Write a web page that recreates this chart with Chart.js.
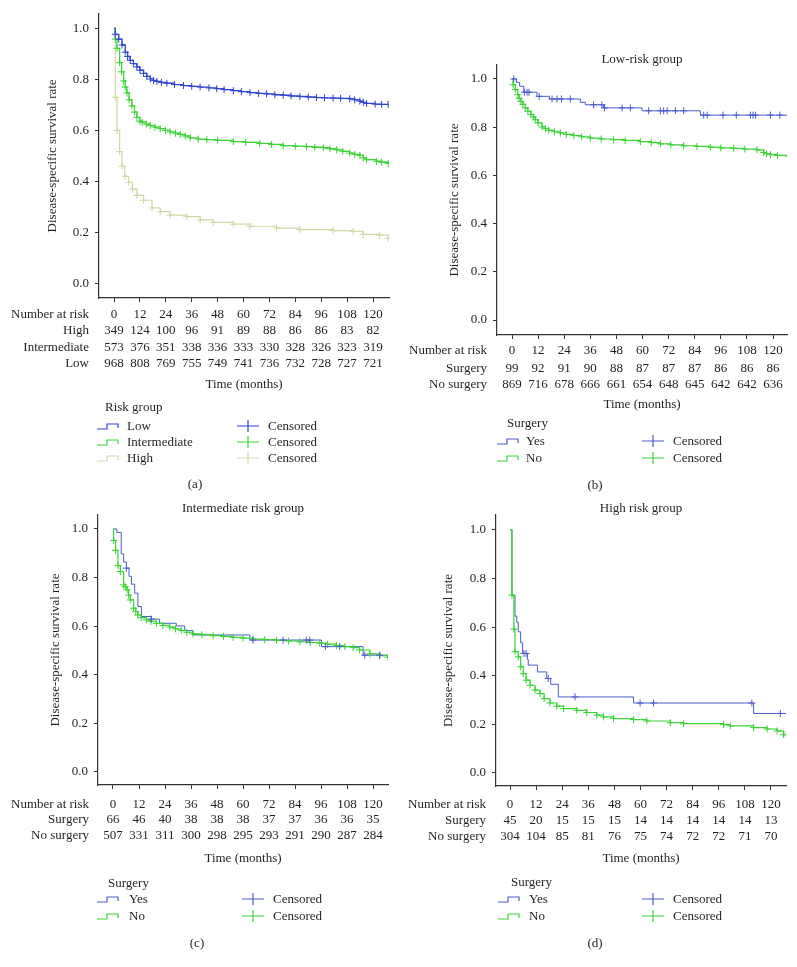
<!DOCTYPE html>
<html lang="en">
<head>
<meta charset="UTF-8">
<title>Disease-specific survival by risk group and surgery</title>
<script src="https://cdn.jsdelivr.net/npm/chart.js"></script>
<style>
  body { margin: 0; background: #fff; }
  .wrap { position: relative; width: 797px; height: 967px; }
  canvas { position: absolute; }
</style>
</head>
<body>
<div class="wrap">
  <canvas id="panelA" width="398" height="495" style="left:0;top:0"></canvas>
  <canvas id="panelB" width="397" height="495" style="left:400px;top:0"></canvas>
  <canvas id="panelC" width="398" height="472" style="left:0;top:495px"></canvas>
  <canvas id="panelD" width="397" height="472" style="left:400px;top:495px"></canvas>
</div>
<script>
// ---- data ----
const months = [0, 12, 24, 36, 48, 60, 72, 84, 96, 108, 120];
const survTicks = [0, 0.2, 0.4, 0.6, 0.8, 1.0];

// (a) all patients by risk group
const lowTime = [0, 0.6, 2.2, 3.7, 5.2, 6.3, 7.5, 9, 10.6, 12, 13.7, 15.2, 16.8, 18.3, 19.9, 22, 24.5, 28, 32.2, 36, 39.9, 44, 47.6, 51, 55.3, 59, 63, 67, 70.7, 74.5, 78.4, 82, 86.1, 90, 93.8, 97.5, 101.5, 105, 109.2, 111.5, 113.9, 115.5, 117, 121, 124, 127];
const lowSurv = [1, 0.977, 0.958, 0.935, 0.907, 0.89, 0.875, 0.862, 0.849, 0.836, 0.824, 0.812, 0.802, 0.796, 0.792, 0.788, 0.785, 0.78, 0.776, 0.773, 0.77, 0.767, 0.764, 0.76, 0.756, 0.752, 0.748, 0.745, 0.743, 0.74, 0.738, 0.735, 0.733, 0.731, 0.729, 0.728, 0.727, 0.726, 0.724, 0.72, 0.715, 0.71, 0.706, 0.703, 0.702, 0.702];
const interTime = [0, 0.6, 1.4, 2.6, 3.5, 4.5, 5.2, 6, 7, 8.3, 9.5, 10.6, 12, 13, 15, 16.8, 19, 21.4, 23.8, 26, 28.5, 30.7, 33, 35.3, 39, 43, 48, 55.3, 61, 67.5, 73, 78.4, 84, 89.2, 93, 97, 100, 103.2, 106, 109.2, 111.5, 113.9, 115.5, 117, 121.6, 124, 127];
const interSurv = [1, 0.958, 0.922, 0.866, 0.83, 0.794, 0.77, 0.747, 0.72, 0.696, 0.672, 0.651, 0.636, 0.632, 0.625, 0.619, 0.613, 0.607, 0.6, 0.594, 0.589, 0.584, 0.578, 0.571, 0.566, 0.564, 0.561, 0.556, 0.553, 0.549, 0.545, 0.54, 0.538, 0.536, 0.534, 0.532, 0.528, 0.524, 0.518, 0.511, 0.506, 0.502, 0.492, 0.485, 0.479, 0.475, 0.47];
const highTime = [0, 0.6, 1.4, 2.6, 3.7, 5, 6.8, 8.5, 10.6, 13.7, 17.6, 21.4, 26, 33.7, 39.9, 46, 55.3, 63, 75.3, 86.1, 101.5, 110.8, 115.4, 123.1, 127];
const highSurv = [1, 0.73, 0.6, 0.517, 0.46, 0.42, 0.396, 0.37, 0.345, 0.326, 0.296, 0.281, 0.268, 0.262, 0.249, 0.239, 0.232, 0.224, 0.217, 0.211, 0.207, 0.204, 0.192, 0.189, 0.176];
const atRiskHigh = [349, 124, 100, 96, 91, 89, 88, 86, 86, 83, 82];
const atRiskInter = [573, 376, 351, 338, 336, 333, 330, 328, 326, 323, 319];
const atRiskLow = [968, 808, 769, 755, 749, 741, 736, 732, 728, 727, 721];

// (b) low-risk group
const bYesTime = [0, 2, 3.5, 5.4, 11.5, 17.2, 31.4, 33.7, 42, 59.8, 86.6, 126.4];
const bYesSurv = [1, 0.986, 0.97, 0.945, 0.928, 0.917, 0.903, 0.893, 0.88, 0.868, 0.85, 0.85];
const bYesCensT = [0.8, 5.7, 6.9, 7.8, 12.5, 18.4, 20.7, 22.7, 26.8, 37.5, 41.3, 42.5, 50.6, 54.4, 62.8, 68.2, 69.7, 71.3, 75.1, 78.9, 88.1, 89.7, 97, 103.1, 109.6, 110.8, 111.9, 118.8, 123.1];
const bYesCensS = [1, 0.945, 0.945, 0.945, 0.928, 0.917, 0.917, 0.917, 0.917, 0.893, 0.893, 0.88, 0.88, 0.88, 0.868, 0.868, 0.868, 0.868, 0.868, 0.868, 0.85, 0.85, 0.85, 0.85, 0.85, 0.85, 0.85, 0.85, 0.85];
const bNoTime = [0, 0.5, 1.5, 2.6, 3.3, 4.1, 5, 6.1, 7.3, 8.7, 9.8, 10.7, 12, 13.8, 15.4, 16.9, 19.5, 22.2, 25, 28.4, 32, 36, 41, 46.7, 52, 59, 64, 68.2, 73, 78.9, 85, 91.2, 96, 101.9, 107, 112.6, 115.7, 117, 118.8, 122, 126.7];
const bNoSurv = [1, 0.976, 0.956, 0.935, 0.92, 0.907, 0.895, 0.88, 0.866, 0.852, 0.842, 0.831, 0.818, 0.801, 0.794, 0.787, 0.781, 0.776, 0.77, 0.765, 0.76, 0.755, 0.751, 0.748, 0.745, 0.74, 0.736, 0.731, 0.727, 0.723, 0.72, 0.717, 0.714, 0.712, 0.709, 0.706, 0.695, 0.69, 0.686, 0.683, 0.681];
const atRiskBYes = [99, 92, 91, 90, 88, 87, 87, 87, 86, 86, 86];
const atRiskBNo = [869, 716, 678, 666, 661, 654, 648, 645, 642, 642, 636];

// (c) intermediate risk group
const cYesTime = [0, 1.8, 3.8, 4.9, 6.2, 7.4, 8.5, 10, 11.5, 13.1, 17.7, 21.5, 29.2, 33.1, 36.9, 63.1, 96.2, 115.4, 126.9];
const cYesSurv = [1, 0.986, 0.898, 0.864, 0.839, 0.805, 0.773, 0.736, 0.681, 0.64, 0.629, 0.612, 0.601, 0.582, 0.564, 0.543, 0.516, 0.481, 0.481];
const cYesCensT = [6.2, 17.7, 64.6, 78.5, 89.2, 90.8, 98, 104.6, 116.2, 123.1];
const cYesCensS = [0.839, 0.629, 0.543, 0.543, 0.543, 0.543, 0.516, 0.516, 0.481, 0.481];
const cNoTime = [0, 0.3, 1.2, 2.3, 3.4, 4.9, 5.7, 6.5, 7.2, 8, 9.5, 10.5, 11.5, 13, 15.4, 17.5, 20, 23, 26.2, 28.8, 31.5, 34, 36.9, 41, 46.2, 51, 55.4, 60, 64.6, 70, 75.4, 81, 86.2, 91, 95.4, 99, 103.1, 107, 110.8, 113.8, 118.5, 123.1, 126.9];
const cNoSurv = [1, 0.953, 0.912, 0.849, 0.825, 0.77, 0.762, 0.75, 0.728, 0.708, 0.674, 0.66, 0.646, 0.635, 0.626, 0.62, 0.612, 0.603, 0.596, 0.589, 0.582, 0.575, 0.568, 0.565, 0.561, 0.558, 0.554, 0.551, 0.547, 0.545, 0.542, 0.539, 0.536, 0.533, 0.53, 0.526, 0.52, 0.516, 0.512, 0.502, 0.486, 0.479, 0.472];
const atRiskCYes = [66, 46, 40, 38, 38, 38, 37, 37, 36, 36, 35];
const atRiskCNo = [507, 331, 311, 300, 298, 295, 293, 291, 290, 287, 284];

// (d) high risk group
const dYesTime = [0, 0.9, 2.3, 3.1, 3.8, 4.9, 5.8, 8, 8.4, 12.6, 16.9, 18.7, 22.2, 56.8, 112, 126.9];
const dYesSurv = [1, 0.73, 0.646, 0.62, 0.581, 0.536, 0.492, 0.467, 0.444, 0.416, 0.389, 0.365, 0.313, 0.288, 0.245, 0.245];
const dYesCensT = [6.4, 7.4, 17.6, 29.9, 59.8, 66, 111.2, 124.3];
const dYesCensS = [0.492, 0.492, 0.389, 0.313, 0.288, 0.288, 0.288, 0.245];
const dNoTime = [0, 0.9, 1.8, 2.3, 3.8, 4.9, 6.1, 7.4, 9.2, 11.5, 13.8, 15.7, 18.4, 21.5, 24.6, 30.7, 35.3, 39.9, 43, 47.6, 56.8, 62.9, 73.7, 79.8, 98.2, 101.3, 112, 118.2, 122.8, 125.8, 127];
const dNoSurv = [1, 0.732, 0.592, 0.499, 0.478, 0.437, 0.409, 0.382, 0.361, 0.341, 0.327, 0.306, 0.288, 0.275, 0.265, 0.258, 0.249, 0.238, 0.231, 0.224, 0.22, 0.214, 0.207, 0.203, 0.199, 0.194, 0.187, 0.181, 0.173, 0.158, 0.158];
const atRiskDYes = [45, 20, 15, 15, 15, 14, 14, 14, 14, 14, 13];
const atRiskDNo = [304, 104, 85, 81, 76, 75, 74, 72, 72, 71, 70];

// ---- styling ----
const ink = '#231f20';
const serif = "'Liberation Serif', 'Times New Roman', serif";
const blueDark = '#3145d4';
const blue = '#4b5ccc';
const green = '#3bd435';
const khaki = '#d3d7a6';

Chart.defaults.font.family = serif;
Chart.defaults.font.size = 13;
Chart.defaults.color = ink;

function pts(t, s) {
  return t.map((v, i) => ({ x: v, y: s[i] }));
}

// risk table, axis title, legend and panel letter
const panelText = {
  id: 'panelText',
  afterDraw(chart, args, o) {
    const ctx = chart.ctx;
    const xs = chart.scales.x;
    const a = chart.chartArea;
    const midX = (a.left + a.right) / 2;
    const dy = 2; // canvas 'middle' sits a bit above the visual centre
    ctx.save();
    ctx.fillStyle = ink;
    ctx.font = '13px ' + serif;
    ctx.textBaseline = 'middle';

    if (o.heading) {
      ctx.textAlign = 'center';
      ctx.fillText(o.heading, midX, o.headingY + dy);
    }

    ctx.save();
    ctx.translate(o.yTitleX, (a.top + a.bottom) / 2);
    ctx.rotate(-Math.PI / 2);
    ctx.textAlign = 'center';
    ctx.fillText('Disease-specific survival rate', 0, 0);
    ctx.restore();

    // same line as the x tick labels
    ctx.textAlign = 'right';
    ctx.fillText('Number at risk', o.labelRight, a.bottom + 4 + o.tickPad + 7.8);
    o.rows.forEach((r, i) => {
      const y = o.rowY[i] + dy;
      ctx.textAlign = 'right';
      ctx.fillText(r.label, o.labelRight, y);
      ctx.textAlign = 'center';
      r.counts.forEach((n, j) => ctx.fillText(String(n), xs.getPixelForValue(months[j]), y));
    });

    ctx.textAlign = 'center';
    ctx.fillText('Time (months)', midX, o.timeY + dy);

    const L = o.legend;
    ctx.textAlign = 'left';
    ctx.fillText(L.title, L.titleX, L.titleY + dy);
    const curves = chart.data.datasets.filter(d => d.showLine !== false);
    curves.forEach((d, i) => {
      const y = L.rowY[i] + dy;
      ctx.strokeStyle = d.borderColor;
      ctx.lineWidth = 1.2;
      ctx.beginPath();
      ctx.moveTo(L.symX, y + 2);
      ctx.lineTo(L.symX + 10, y + 2);
      ctx.lineTo(L.symX + 10, y - 3);
      ctx.lineTo(L.symX + 21, y - 3);
      ctx.lineTo(L.symX + 21, y + 1);
      ctx.stroke();
      ctx.fillText(d.label, L.labelX, y);
      ctx.beginPath();
      ctx.moveTo(L.censX, y - 1);
      ctx.lineTo(L.censX + 22, y - 1);
      ctx.moveTo(L.censX + 11, y - 7);
      ctx.lineTo(L.censX + 11, y + 5);
      ctx.stroke();
      ctx.fillText('Censored', L.censLabelX, y);
    });

    ctx.textAlign = 'center';
    ctx.fillText(o.letter, o.letterX, o.letterY + dy);
    ctx.restore();
  }
};

function curve(label, t, s, color, width, marks, order) {
  return {
    label: label,
    data: pts(t, s),
    stepped: true,
    order: order,
    borderColor: color,
    borderWidth: width,
    pointStyle: 'cross',
    pointRadius: marks ? (c => (c.dataIndex === 0 ? 0 : 3.5)) : 0,
    pointBorderColor: color,
    pointBorderWidth: 1,
    pointHoverRadius: 0
  };
}

function censored(t, s, color) {
  return {
    label: 'Censored',
    data: pts(t, s),
    showLine: false,
    order: 0,
    pointStyle: 'cross',
    pointRadius: 3.5,
    pointBorderColor: color,
    borderColor: color,
    pointBorderWidth: 1
  };
}

function kmPanel(id, datasets, g, text) {
  const canvas = document.getElementById(id);
  return new Chart(canvas, {
    type: 'line',
    data: { datasets: datasets },
    options: {
      responsive: false,
      animation: false,
      events: [],
      layout: { padding: { left: 0, top: g.top, right: canvas.width - g.right, bottom: 0 } },
      plugins: { legend: { display: false }, tooltip: { enabled: false }, panelText: text },
      scales: {
        x: {
          type: 'linear',
          min: g.xMin, max: g.xMax,
          afterFit: s => { s.height = canvas.height - g.bottom; },
          afterBuildTicks: s => { s.ticks = months.map(v => ({ value: v })); },
          ticks: { padding: text.tickPad, color: ink, maxRotation: 0, autoSkip: false },
          grid: { drawOnChartArea: false, drawTicks: true, tickLength: 4, color: '#333' },
          border: { display: true, color: '#333', width: 1.2 }
        },
        y: {
          type: 'linear',
          min: g.yMin, max: g.yMax,
          afterFit: s => { s.width = g.left; },
          afterBuildTicks: s => { s.ticks = survTicks.map(v => ({ value: v })); },
          ticks: { padding: 6, color: ink, callback: v => v.toFixed(1) },
          grid: { drawOnChartArea: false, drawTicks: true, tickLength: 4, color: '#333' },
          border: { display: true, color: '#333', width: 1.2 }
        }
      }
    },
    plugins: [panelText]
  });
}

// (a)
kmPanel('panelA', [
  curve('Low', lowTime, lowSurv, blueDark, 1.3, true, 1),
  curve('Intermediate', interTime, interSurv, green, 1.3, true, 2),
  curve('High', highTime, highSurv, khaki, 1.2, true, 3)
], { left: 99, right: 389, top: 7, bottom: 298, xMin: -6.95, xMax: 127.4, yMin: -0.0575, yMax: 1.0575 }, {
  tickPad: 4.4, labelRight: 89, yTitleX: 53,
  rows: [{ label: 'High', counts: atRiskHigh }, { label: 'Intermediate', counts: atRiskInter }, { label: 'Low', counts: atRiskLow }],
  rowY: [329, 346, 362], timeY: 383,
  legend: { title: 'Risk group', titleX: 105, titleY: 406, rowY: [425, 441, 457], symX: 97, labelX: 127, censX: 237, censLabelX: 268 },
  letter: '(a)', letterX: 195, letterY: 483
});

// (b)
kmPanel('panelB', [
  curve('Yes', bYesTime, bYesSurv, blue, 1, false, 2),
  curve('No', bNoTime, bNoSurv, green, 1.2, true, 1),
  censored(bYesCensT, bYesCensS, blue)
], { left: 97, right: 387, top: 65, bottom: 335, xMin: -6.9, xMax: 126.4, yMin: -0.0622, yMax: 1.058 }, {
  heading: 'Low-risk group', headingY: 58,
  tickPad: 3.4, labelRight: 87, yTitleX: 55,
  rows: [{ label: 'Surgery', counts: atRiskBYes }, { label: 'No surgery', counts: atRiskBNo }],
  rowY: [367, 383], timeY: 403,
  legend: { title: 'Surgery', titleX: 107, titleY: 422, rowY: [440, 457], symX: 97, labelX: 126, censX: 242, censLabelX: 273 },
  letter: '(b)', letterX: 195, letterY: 484
});

// (c)
kmPanel('panelC', [
  curve('Yes', cYesTime, cYesSurv, blue, 1, false, 2),
  curve('No', cNoTime, cNoSurv, green, 1.2, true, 1),
  censored(cYesCensT, cYesCensS, blue)
], { left: 98, right: 388, top: 20, bottom: 290, xMin: -6.92, xMax: 126.9, yMin: -0.0535, yMax: 1.0576 }, {
  heading: 'Intermediate risk group', headingY: 12,
  tickPad: 7.4, labelRight: 89, yTitleX: 56,
  rows: [{ label: 'Surgery', counts: atRiskCYes }, { label: 'No surgery', counts: atRiskCNo }],
  rowY: [323, 339], timeY: 362,
  legend: { title: 'Surgery', titleX: 108, titleY: 387, rowY: [403, 420], symX: 97, labelX: 129, censX: 242, censLabelX: 273 },
  letter: '(c)', letterX: 197, letterY: 447
});

// (d)
kmPanel('panelD', [
  curve('Yes', dYesTime, dYesSurv, blue, 1, false, 2),
  curve('No', dNoTime, dNoSurv, green, 1.2, true, 1),
  censored(dYesCensT, dYesCensS, blue)
], { left: 96, right: 386, top: 20, bottom: 291, xMin: -6.44, xMax: 126.9, yMin: -0.0535, yMax: 1.0617 }, {
  heading: 'High risk group', headingY: 12,
  tickPad: 6.4, labelRight: 86, yTitleX: 49,
  rows: [{ label: 'Surgery', counts: atRiskDYes }, { label: 'No surgery', counts: atRiskDNo }],
  rowY: [324, 340], timeY: 362,
  legend: { title: 'Surgery', titleX: 111, titleY: 386, rowY: [403, 420], symX: 98, labelX: 129, censX: 242, censLabelX: 273 },
  letter: '(d)', letterX: 195, letterY: 447
});
</script>
</body>
</html>
